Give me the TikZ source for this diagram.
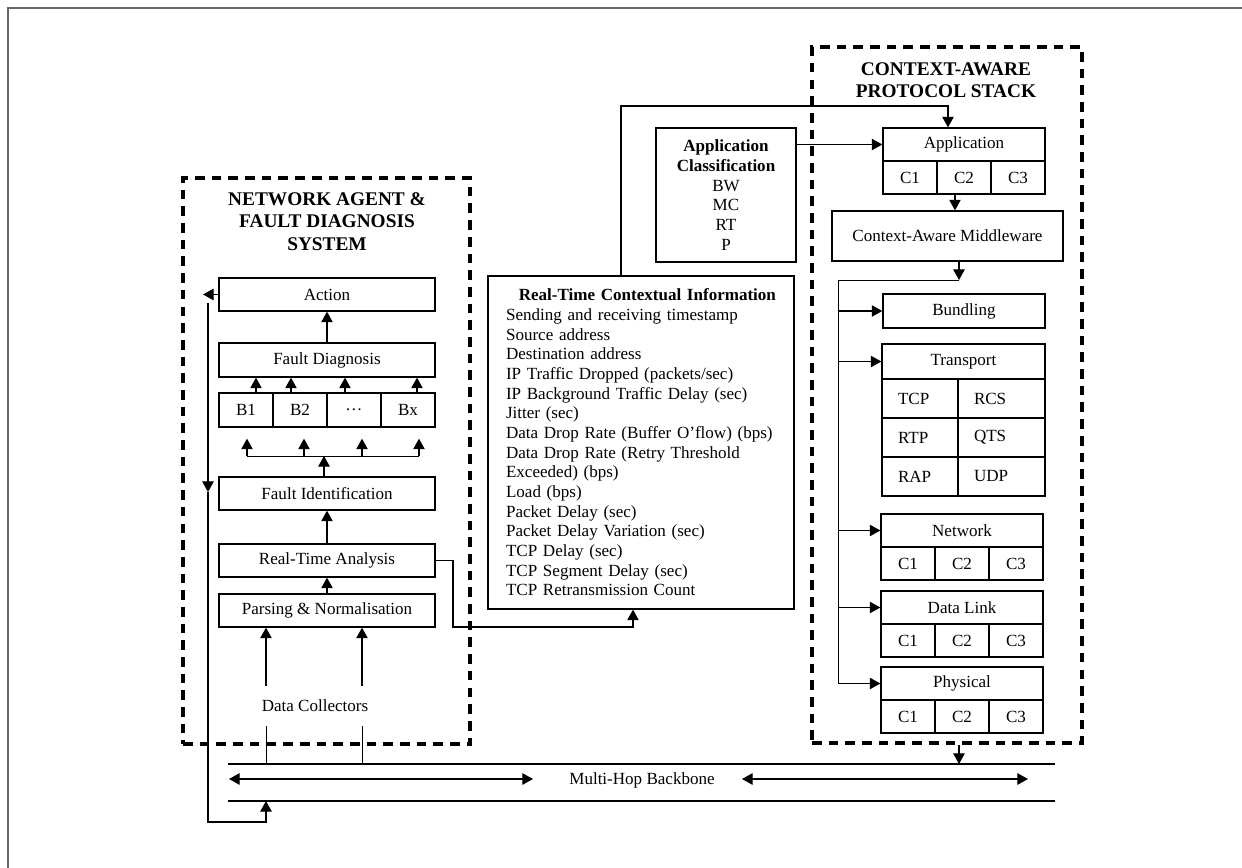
\documentclass[tikz,border=0pt]{standalone}
\usepackage{fontspec}
\setmainfont{Liberation Serif}
\usetikzlibrary{arrows.meta,calc}
\newcommand{\FT}{\fontsize{9.7}{11.2}\selectfont}
\newcommand{\FH}{\fontsize{11}{12.7}\selectfont\bfseries}

\begin{document}
\begin{tikzpicture}[x=0.02cm,y=-0.02cm]
\tikzstyle{blk}=[draw,line width=0.75pt,inner sep=0pt,font=\FT]
\tikzstyle{dbox}=[draw,line width=2pt,dash pattern=on 5.5pt off 4pt,inner sep=0pt]
\tikzstyle{hdr}=[align=center,font=\FH]
\tikzstyle{arr}=[-{Triangle[length=6pt,width=6.5pt]},line width=0.6pt]
\tikzstyle{dbl}=[{Triangle[length=6pt,width=6.5pt]}-{Triangle[length=6pt,width=6.5pt]},line width=0.6pt]
\tikzstyle{bbline}=[line width=0.85pt]
\tikzset{sz/.style 2 args={minimum width=#1*0.02cm,minimum height=#2*0.02cm}}

\useasboundingbox (0,0) rectangle (1242,868);
\draw[black!60,line width=1.2pt] (8,868) -- (8,8) -- (1242,8);

% network agent side
\node[dbox,sz={287}{566}] (agent) at (326.5,461) {};
\node[hdr] (agenthdr) at (327,221.5) {NETWORK AGENT \&\\FAULT DIAGNOSIS\\SYSTEM};
\node[blk,sz={216}{33}] (act) at (327,294.5) {Action};
\node[blk,sz={216}{34}] (fdiag) at (327,360) {Fault Diagnosis};
\node[blk,sz={54}{34}] (b1) at (246,410) {B1};
\node[blk,sz={54}{34}] (b2) at (300,410) {B2};
\node[blk,sz={54}{34}] (b3) at (354,410) {\dots};
\node[blk,sz={54}{34}] (bx) at (408,410) {Bx};
\node[blk,sz={216}{33}] (fid) at (327,493.5) {Fault Identification};
\node[blk,sz={216}{33}] (rta) at (327,560.5) {Real-Time Analysis};
\node[blk,sz={216}{33}] (pn) at (327,610.5) {Parsing \& Normalisation};
\node[font=\FT,sz={0}{40}] (dc) at (315,706) {Data Collectors};

\draw[arr] (fdiag.north) -- (act.south);
\foreach \n/\d in {b1/10,b2/-9,b3/-9,bx/9}
  \draw[arr] ($(\n.north)+(\d,0)$) -- ($(\n.north |- fdiag.south)+(\d,0)$);
\coordinate (split) at (324,456);
\draw[arr] (fid.north -| split) -- (split);
\draw ($(b1.south |- split)+(1,0)$) -- ($(bx.south |- split)+(11,0)$);
\foreach \n/\d in {b1/1,b2/4,b3/8,bx/11}
  \draw[arr] ($(\n.south |- split)+(\d,0)$) -- ($(\n.south)+(\d,11)$);
\draw[arr] (rta.north) -- (fid.south);
\draw[arr] (pn.north) -- (rta.south);

% middle boxes
\node[blk,sz={140}{134},align=center] (appc) at (726,195)
  {\textbf{Application}\\\textbf{Classification}\\BW\\MC\\RT\\P};
\node[blk,sz={306}{333},text width=5.4cm,inner xsep=0.36cm,align=left] (rtci) at (641,442.5)
  {\hspace*{\fill}\textbf{Real-Time Contextual Information}\hspace*{\fill}\\
   Sending and receiving timestamp\\
   Source address\\
   Destination address\\
   IP Traffic Dropped (packets/sec)\\
   IP Background Traffic Delay (sec)\\
   Jitter (sec)\\
   Data Drop Rate (Buffer O'flow) (bps)\\
   Data Drop Rate (Retry Threshold\\
   Exceeded) (bps)\\
   Load (bps)\\
   Packet Delay (sec)\\
   Packet Delay Variation (sec)\\
   TCP Delay (sec)\\
   TCP Segment Delay (sec)\\
   TCP Retransmission Count};

% protocol stack
\node[dbox,sz={270}{696}] (stack) at (947,395) {};
\node[hdr] (stackhdr) at (946,80) {CONTEXT-AWARE\\PROTOCOL STACK};
\node[blk,sz={162}{33}] (app) at (964,144.5) {Application};
\node[blk,sz={54}{33}] (ac1) at (910,177.5) {C1};
\node[blk,sz={54}{33}] (ac2) at (964,177.5) {C2};
\node[blk,sz={54}{33}] (ac3) at (1018,177.5) {C3};
\node[blk,sz={231}{50}] (cam) at (947.5,236) {Context-Aware Middleware};
\node[blk,sz={162}{34}] (bund) at (964,311) {Bundling};
\node[blk,sz={163}{35}] (trans) at (963.5,361.5) {Transport};
\foreach \n/\t/\y in {t1/TCP/398.5,t2/RTP/437.5,t3/RAP/476.5}
  \node[blk,sz={76}{39},text width=0.88cm,inner xsep=0.32cm,align=left] (\n) at (920,\y) {\t};
\foreach \n/\t/\y in {u1/RCS/398.5,u2/QTS/437.5,u3/UDP/476.5}
  \node[blk,sz={87}{39},text width=1.1cm,inner xsep=0.32cm,align=left] (\n) at (1001.5,\y) {\t};
\foreach \n/\t/\y/\yc in {net/Network/530.5/563.5,dl/Data Link/607.5/640.5,phy/Physical/683.5/716.5}{
  \node[blk,sz={162}{33}] (\n) at (962,\y) {\t};
  \foreach \i/\x in {1/908,2/962,3/1016}
    \node[blk,sz={54}{33}] (\n\i) at (\x,\yc) {C\i};
}

\coordinate (appdown) at (955,194);
\draw[arr] (ac2.south -| appdown) -- (cam.north -| appdown);
\draw[arr] (appc.east |- app.west) -- (app.west);
\coordinate (ctxup) at (621,106);
\coordinate (appdrop) at (948,106);
\draw[arr] (rtci.north -| ctxup) -- (ctxup) -- (appdrop) -- (app.north -| appdrop);
\coordinate (bustip) at (959,280);
\coordinate (bustop) at (838,280);
\draw[arr] (cam.south -| bustip) -- (bustip);
\draw (bustip) -- (bustop) -- (bustop |- phy.west);
\foreach \n in {bund,trans,net,dl,phy}
  \draw[arr] (bustop |- \n.west) -- (\n.west);

\coordinate (rtaR) at (453,627);
\draw[arr] (rta.east) -| (rtaR) -| ($(rtci.south)+(-8,0)$);

% backbone
\coordinate (bbTL) at (228,764);
\coordinate (bbTR) at (1055,764);
\coordinate (bbBL) at (228,801);
\coordinate (bbBR) at (1055,801);
\draw[bbline] (bbTL) -- (bbTR);
\draw[bbline] (bbBL) -- (bbBR);
\node[font=\FT] (mhb) at (642,780) {Multi-Hop Backbone};
\coordinate (lA) at (229,779);
\coordinate (lB) at (533,779);
\coordinate (rA) at (742,779);
\coordinate (rB) at (1028,779);
\draw[dbl] (lA) -- (lB);
\draw[dbl] (rA) -- (rB);

\coordinate (tapA) at (266,764);
\coordinate (tapB) at (362,764);
\coordinate (tapR) at (959,764);
\draw (tapA) -- (tapA |- dc.south);
\draw (tapB) -- (tapB |- dc.south);
\draw[arr] (tapA |- dc.north) -- (tapA |- pn.south);
\draw[arr] (tapB |- dc.north) -- (tapB |- pn.south);
\draw[arr] (stack.south -| tapR) -- (tapR);

% feedback loop
\coordinate (actout) at (203,294.5);
\coordinate (lpT) at (208,303);
\coordinate (lpM) at (208,492);
\coordinate (lpB) at (208,822);
\draw[arr] (act.west) -- (actout);
\draw[arr] (lpT) -- (lpM);
\draw[arr] (lpM) -- (lpB) -| (tapA |- bbBL);
\end{tikzpicture}
\end{document}
